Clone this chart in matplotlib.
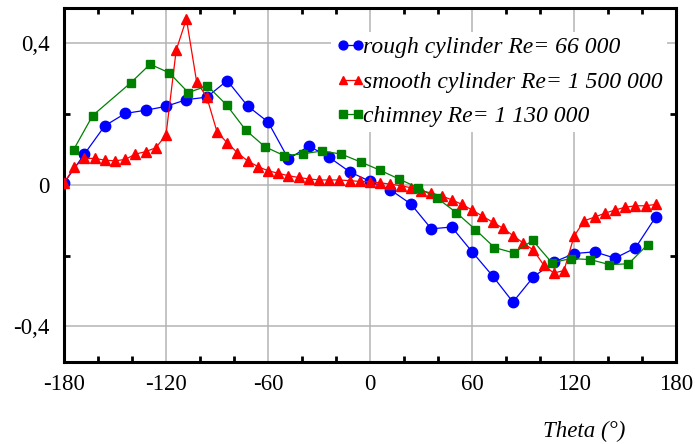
import matplotlib
matplotlib.use("Agg")
import matplotlib.pyplot as plt

plt.rcParams['font.family'] = ['Liberation Serif', 'DejaVu Serif']

# rough cylinder, Re = 66 000 (every 12 deg)
theta_rough = [-180, -168, -156, -144, -132, -120, -108, -96, -84, -72, -60, -48,
               -36, -24, -12, 0, 12, 24, 36, 48, 60, 72, 84, 96, 108, 120, 132,
               144, 156, 168]
cp_rough = [0.005, 0.087, 0.167, 0.202, 0.211, 0.222, 0.241, 0.248, 0.295, 0.223,
            0.178, 0.073, 0.110, 0.078, 0.037, 0.010, -0.014, -0.054, -0.124,
            -0.119, -0.189, -0.257, -0.331, -0.260, -0.218, -0.194, -0.189,
            -0.207, -0.178, -0.090]

# smooth cylinder, Re = 1 500 000 (every 6 deg)
theta_smooth = [-180, -174, -168, -162, -156, -150, -144, -138, -132, -126, -120,
                -114, -108, -102, -96, -90, -84, -78, -72, -66, -60, -54, -48,
                -42, -36, -30, -24, -18, -12, -6, 0, 6, 12, 18, 24, 30, 36, 42,
                48, 54, 60, 66, 72, 78, 84, 90, 96, 102, 108, 114, 120, 126, 132,
                138, 144, 150, 156, 162, 168]
cp_smooth = [0.005, 0.050, 0.075, 0.075, 0.070, 0.068, 0.072, 0.087, 0.094, 0.105,
             0.141, 0.381, 0.469, 0.292, 0.248, 0.150, 0.119, 0.091, 0.068, 0.052,
             0.040, 0.033, 0.026, 0.021, 0.017, 0.014, 0.014, 0.014, 0.012, 0.010,
             0.009, 0.006, 0.002, -0.002, -0.008, -0.016, -0.023, -0.031, -0.042,
             -0.055, -0.071, -0.088, -0.105, -0.122, -0.143, -0.164, -0.184,
             -0.226, -0.249, -0.242, -0.144, -0.101, -0.091, -0.080, -0.071,
             -0.063, -0.059, -0.059, -0.055]

# chimney, Re = 1 130 000 (sector centres, 11.25 deg)
theta_chimney = [-174.375, -163.125, -140.625, -129.375, -118.125, -106.875,
                 -95.625, -84.375, -73.125, -61.875, -50.625, -39.375, -28.125,
                 -16.875, -5.625, 5.625, 16.875, 28.125, 39.375, 50.625, 61.875,
                 73.125, 84.375, 95.625, 106.875, 118.125, 129.375, 140.625,
                 151.875, 163.125]
cp_chimney = [0.099, 0.196, 0.289, 0.341, 0.317, 0.261, 0.280, 0.226, 0.155, 0.108,
              0.083, 0.088, 0.096, 0.087, 0.065, 0.042, 0.017, -0.008, -0.037,
              -0.078, -0.126, -0.177, -0.192, -0.157, -0.220, -0.208, -0.211,
              -0.225, -0.223, -0.169]

labels = ['rough cylinder Re= 66 000', 'smooth cylinder Re= 1 500 000',
          'chimney Re= 1 130 000']

xticks = [-180, -120, -60, 0, 60, 120, 180]
xticklabels = ['-180', '-120', '-60', '0', '60', '120', '180']
xminor = [-160, -140, -100, -80, -40, -20, 20, 40, 80, 100, 140, 160]
yticks = [-0.4, 0, 0.4]
yticklabels = ['-0,4', '0', '0,4']
yminor = [-0.2, 0.2]

fig = plt.figure(figsize=(6.95, 4.44), dpi=100)
ax = fig.add_axes([0.092, 0.185, 0.881, 0.797])

ax.plot(theta_rough, cp_rough, color='#0000ff', lw=0.9, marker='o', ms=7.5,
        mec='#0000ff', label=labels[0], zorder=3)
ax.plot(theta_smooth, cp_smooth, color='#ff0000', lw=0.9, marker='^', ms=7.5,
        mec='#ff0000', label=labels[1], zorder=3)
ax.plot(theta_chimney, cp_chimney, color='#008000', lw=0.9, marker='s', ms=6,
        mec='#008000', label=labels[2], zorder=3)

ax.set_xlim(-180, 180)
ax.set_ylim(-0.5, 0.5)
ax.set_xticks(xticks)
ax.set_xticklabels(xticklabels)
ax.set_xticks(xminor, minor=True)
ax.set_yticks(yticks)
ax.set_yticklabels(yticklabels)
ax.set_yticks(yminor, minor=True)

ax.grid(True, which='major', color='#b4b4b4', lw=1.1, zorder=0)
ax.tick_params(which='major', length=0, labelsize=16.5)
ax.tick_params(axis='x', which='major', pad=8.5)
ax.tick_params(axis='y', which='major', pad=10.5)
ax.tick_params(which='minor', direction='in', length=4, width=2,
               top=True, right=True, bottom=True, left=True)
for s in ax.spines.values():
    s.set_linewidth(2.2)

leg = ax.legend(loc='upper left', bbox_to_anchor=(0.436, 0.932), frameon=True,
                fancybox=False, edgecolor='none', facecolor='white',
                framealpha=1, numpoints=2, handlelength=1.26, handletextpad=-0.1,
                labelspacing=0.55, borderpad=0.2, borderaxespad=0,
                markerscale=0.85, prop={'style': 'italic', 'size': 17})

fig.text(0.781, 0.0165, 'Theta (°)', fontsize=16.5, style='italic', va='baseline')

fig.savefig('out.png', dpi=100)
